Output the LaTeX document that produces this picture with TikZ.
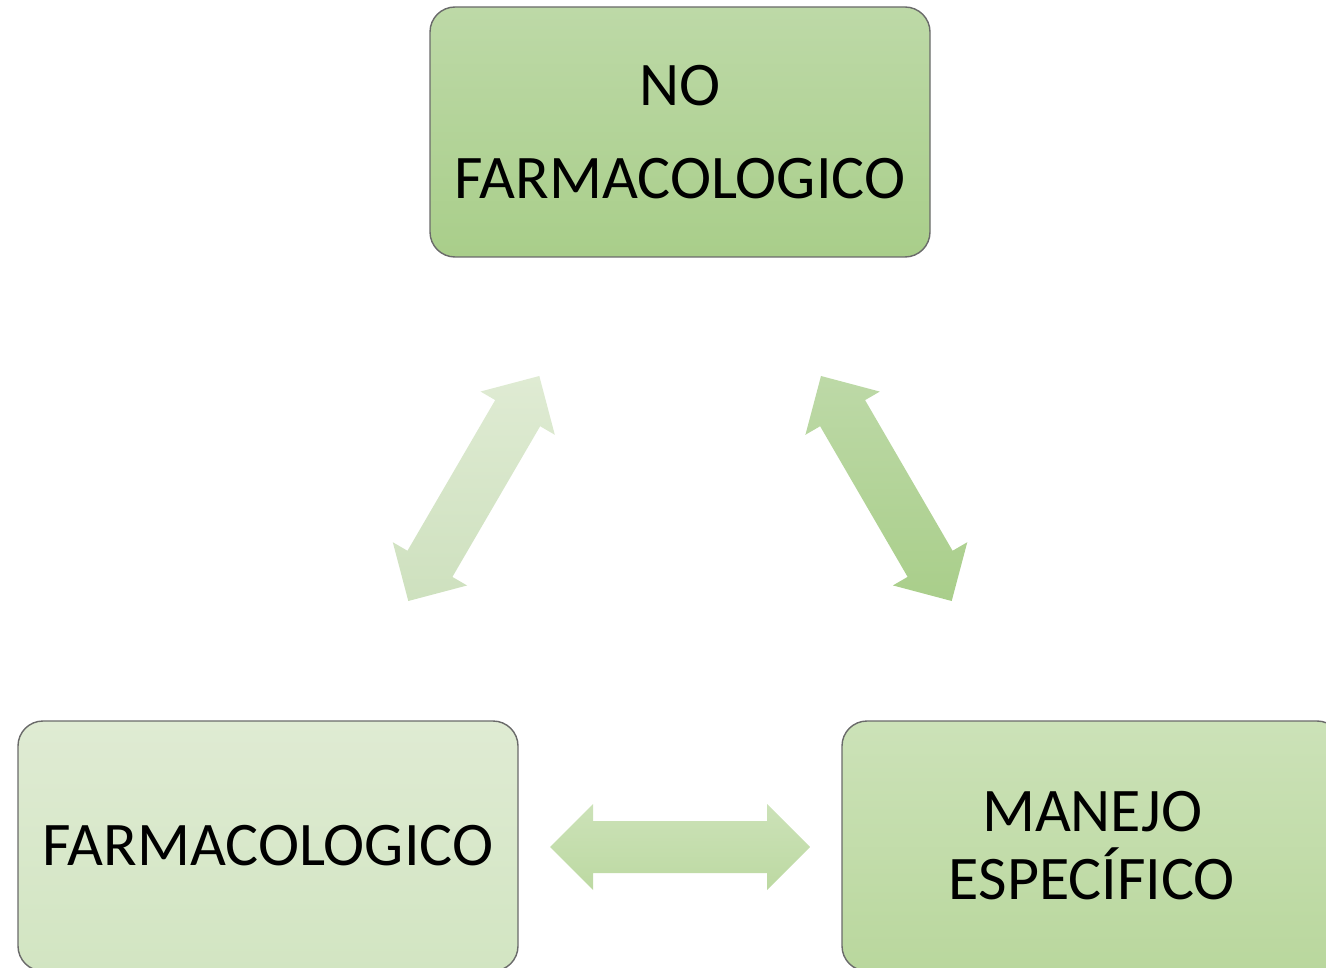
\documentclass[tikz,border=0pt]{standalone}
\usepackage{fontspec}
\setmainfont{Carlito}
\usetikzlibrary{calc}

\definecolor{boxline}{HTML}{6A6A6A}
\definecolor{topA}{HTML}{BDD9A7}
\definecolor{botA}{HTML}{A9CE8A}
\definecolor{topB}{HTML}{DFEBD3}
\definecolor{botB}{HTML}{D2E5C2}
\definecolor{topC}{HTML}{CCE2B8}
\definecolor{botC}{HTML}{B9D79D}

% double block arrow between two tips
\newcommand{\dblarrow}[4]{%
  \shade[top color=#3, bottom color=#4]
    (#1) -- ($(#1)!43pt!(#2)!43pt!90:(#2)$) -- ($(#1)!43pt!(#2)!26pt!90:(#2)$)
    -- ($(#2)!43pt!(#1)!26pt!-90:(#1)$) -- ($(#2)!43pt!(#1)!43pt!-90:(#1)$)
    -- (#2) -- ($(#2)!43pt!(#1)!43pt!90:(#1)$) -- ($(#2)!43pt!(#1)!26pt!90:(#1)$)
    -- ($(#1)!43pt!(#2)!26pt!-90:(#2)$) -- ($(#1)!43pt!(#2)!43pt!-90:(#2)$) -- cycle;}

\begin{document}
\begin{tikzpicture}[x=1pt, y=-1pt,
    box/.style={rectangle, rounded corners=25pt, draw=boxline, line width=1.4pt,
      minimum width=500pt, minimum height=250pt, inner sep=0pt, align=center,
      font=\fontsize{62}{68}\selectfont}]
    \useasboundingbox (0,0) rectangle (1326,968);
    \clip (0,0) rectangle (1326,968);

    \node[box, top color=topA, bottom color=botA] (nofarm) at (680,132) {NO\\[25pt]FARMACOLOGICO};

    \node[box, top color=topB, bottom color=botB] (farm) at (268,846) {FARMACOLOGICO};

    \node[box, top color=topC, bottom color=botC] (manejo) at (1092,846) {MANEJO\\ESPECÍFICO};

    \coordinate (la) at (408.3,601);
    \coordinate (lb) at (539.3,376);
    \coordinate (ra) at (821,376);
    \coordinate (rb) at (951.7,601);
    \coordinate (ha) at (550,847);
    \coordinate (hb) at (810,847);

    \dblarrow{la}{lb}{topB}{botB!98!black}
    \dblarrow{ra}{rb}{topA}{botA}
    \dblarrow{ha}{hb}{topC}{botC!95!white}

\end{tikzpicture}
\end{document}
